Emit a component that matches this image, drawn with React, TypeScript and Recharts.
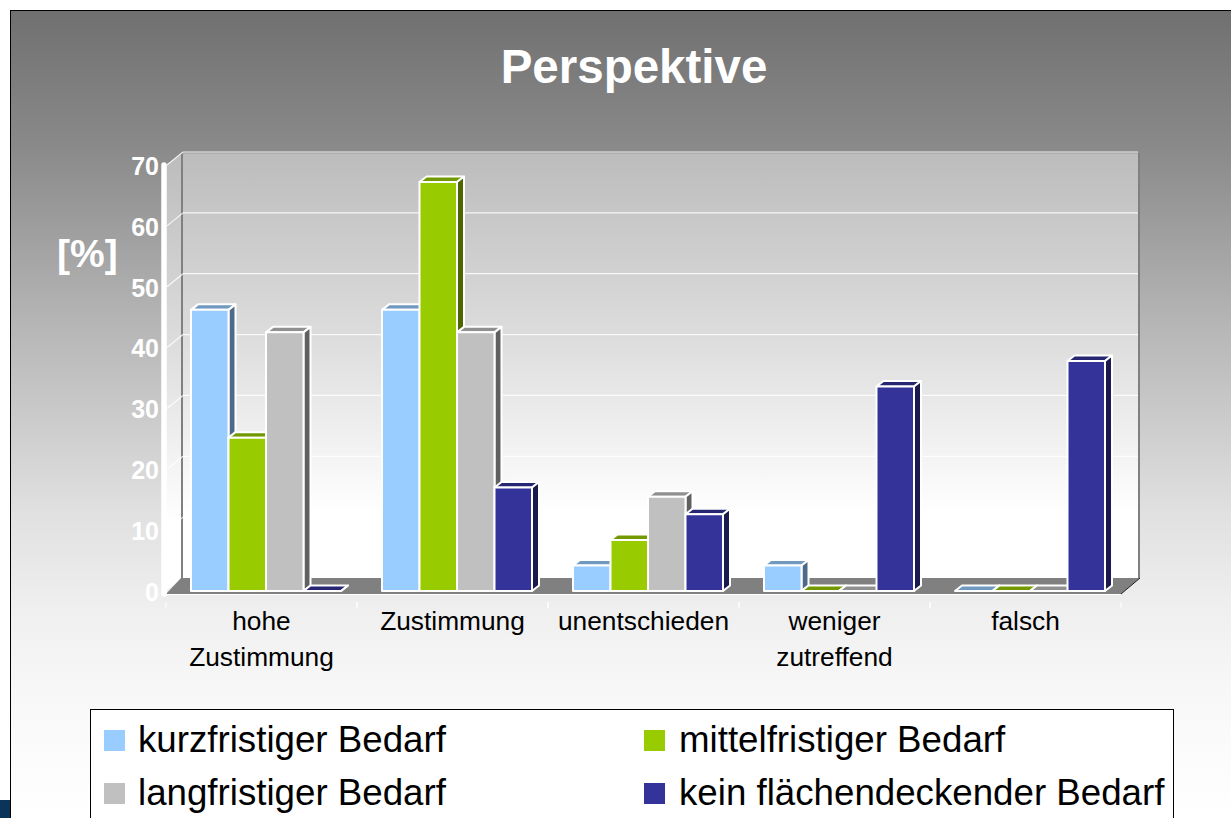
import { BarChart, Bar, XAxis, YAxis, CartesianGrid, Legend } from "recharts";

const categories = ["hohe\nZustimmung", "Zustimmung", "unentschieden", "weniger\nzutreffend", "falsch"];
const yTicks = [0, 10, 20, 30, 40, 50, 60, 70];
const kurzfristig = [46.2, 46.2, 4.2, 4.2, 0];
const mittelfristig = [25.2, 67.2, 8.4, 0, 0];
const langfristig = [42.5, 42.5, 15.5, 0, 0];
const flaechendeckend = [0, 17, 12.6, 33.6, 37.8];

const rows = categories.map((name, i) => ({
  name,
  kurz: kurzfristig[i],
  mittel: mittelfristig[i],
  lang: langfristig[i],
  kein: flaechendeckend[i],
}));

// front, top, side faces of each bar colour
const FACES: Record<string, [string, string]> = {
  "#99CCFF": ["#7099BF", "#4E6A8A"],
  "#99CC00": ["#739900", "#4D6600"],
  "#C0C0C0": ["#909090", "#606060"],
  "#333399": ["#262673", "#1A1A4D"],
};

const W = 1231;
const H = 818;
const PLOT_LEFT = 166;
const PLOT_RIGHT = 1121;
const PLOT_TOP = 165;
const PLOT_BOTTOM = 591;
const DEPTH_X = 17;
const DEPTH_Y = 13;

function Bar3D(props: any) {
  const { x, y, width, height, fill } = props;
  const [top, side] = FACES[fill];
  const x0 = x + 4;
  const dx = 7;
  const dy = 5.5;
  return (
    <g stroke="#fff" strokeWidth={2} strokeLinejoin="round">
      <polygon
        points={`${x0},${y} ${x0 + dx},${y - dy} ${x0 + width + dx},${y - dy} ${x0 + width},${y}`}
        fill={top}
      />
      <polygon
        points={`${x0 + width},${y} ${x0 + width + dx},${y - dy} ${x0 + width + dx},${y + height - dy} ${x0 + width},${y + height}`}
        fill={side}
      />
      {height > 0 && <rect x={x0} y={y} width={width} height={height} fill={fill} />}
    </g>
  );
}

function GridLine(props: any) {
  const { x1, x2, y1 } = props;
  if (y1 >= PLOT_BOTTOM - 1) return null;
  return (
    <g stroke="#fff" strokeWidth={1.2} opacity={0.85}>
      <line x1={x1 + 1} y1={y1} x2={x1 + DEPTH_X} y2={y1 - DEPTH_Y} />
      <line x1={x1 + DEPTH_X} y1={y1 - DEPTH_Y} x2={x2 + DEPTH_X} y2={y1 - DEPTH_Y} />
    </g>
  );
}

function CategoryTick(props: any) {
  const { x, y, payload } = props;
  const lines = String(payload.value).split("\n");
  return (
    <g>
      <line x1={x - 95.5} x2={x - 95.5} y1={y + 3} y2={y + 9} stroke="#fff" strokeWidth={1} />
      <line x1={x + 95.5} x2={x + 95.5} y1={y + 3} y2={y + 9} stroke="#fff" strokeWidth={1} />
      <text x={x} y={y} textAnchor="middle" fontSize={26.3} fill="#000" fontFamily="Liberation Sans">
        {lines.map((l, i) => (
          <tspan key={l} x={x} y={630 + i * 36}>
            {l}
          </tspan>
        ))}
      </text>
    </g>
  );
}

function LegendBox({ payload }: any) {
  return (
    <div
      style={{
        position: "absolute",
        left: 0,
        top: 0,
        width: 1084,
        height: 130,
        boxSizing: "border-box",
        background: "#fff",
        border: "1px solid #000",
        fontFamily: "Liberation Sans",
        fontSize: 36.7,
        color: "#000",
      }}
    >
      {(payload ?? []).map((p: any, i: number) => (
        <div
          key={p.value}
          style={{ position: "absolute", left: i % 2 ? 553 : 13, top: 8 + Math.floor(i / 2) * 53, height: 44, display: "flex", alignItems: "center", whiteSpace: "nowrap" }}
        >
          <span style={{ width: 21, height: 21, background: p.color, marginRight: i % 2 ? 14 : 13 }} />
          {p.value}
        </div>
      ))}
    </div>
  );
}

export default function App() {
  const wx0 = PLOT_LEFT + DEPTH_X;
  const wx1 = PLOT_RIGHT + DEPTH_X + 1;
  const wy0 = PLOT_TOP - DEPTH_Y + 1;
  const wy1 = PLOT_BOTTOM - DEPTH_Y;
  return (
    <div style={{ position: "relative", width: W, height: H, overflow: "hidden", background: "#fff" }}>
      <style>{"body{margin:0}"}</style>
      <div style={{ position: "absolute", left: 0, top: 800, width: 10, height: 18, background: "#0B3558" }} />
      <div
        style={{
          position: "absolute",
          left: 10,
          top: 10,
          width: W - 10,
          height: H - 10,
          boxSizing: "border-box",
          borderLeft: "1.5px solid #000",
          borderTop: "1.5px solid #000",
          background: "linear-gradient(180deg,#707070 0%,#8a8a8a 17%,#b4b4b4 38%,#e0e0e0 62%,#efefef 74%,#f8f8f8 85%,#ffffff 100%)",
        }}
      />
      <svg width={W} height={H} style={{ position: "absolute", left: 0, top: 0 }}>
        <defs>
          <linearGradient id="wall" x1="0" y1="0" x2="0" y2="1">
            <stop offset="0" stopColor="#bcbcbc" />
            <stop offset="0.45" stopColor="#dedede" />
            <stop offset="0.85" stopColor="#ffffff" />
            <stop offset="1" stopColor="#ffffff" />
          </linearGradient>
        </defs>
        <polygon points={`${PLOT_LEFT},${PLOT_TOP} ${wx0},${wy0} ${wx0},${wy1} ${PLOT_LEFT},${PLOT_BOTTOM}`} fill="url(#wall)" />
        <rect x={wx0} y={wy0} width={wx1 - wx0} height={wy1 - wy0} fill="url(#wall)" />
        <line x1={wx0} y1={wy0} x2={wx1} y2={wy0} stroke="#a0a0a0" strokeWidth={1} />
        <line x1={wx0 - 1} y1={wy0} x2={wx0 - 1} y2={wy1} stroke="#808080" strokeWidth={2} />
        <line x1={wx1} y1={wy0} x2={wx1} y2={wy1} stroke="#808080" strokeWidth={2} />
        <polygon
          points={`${PLOT_LEFT},${PLOT_BOTTOM + 3} ${wx0 - 2},${wy1} ${wx1 + 1},${wy1} ${PLOT_RIGHT},${PLOT_BOTTOM + 3}`}
          fill="#808080"
        />
        <line x1={wx1 + 1} y1={wy1} x2={PLOT_RIGHT} y2={PLOT_BOTTOM + 3} stroke="#222" strokeWidth={1} />
        <line x1={PLOT_LEFT} y1={PLOT_BOTTOM + 3.5} x2={PLOT_RIGHT} y2={PLOT_BOTTOM + 3.5} stroke="#fff" strokeWidth={1} />
        <line x1={164} y1={PLOT_TOP} x2={164} y2={PLOT_BOTTOM + 3} stroke="#fff" strokeWidth={5.5} strokeLinecap="round" />
      </svg>
      <div
        style={{
          position: "absolute",
          left: 0,
          width: W,
          top: 39,
          paddingLeft: 37,
          boxSizing: "border-box",
          textAlign: "center",
          fontFamily: "Liberation Sans",
          fontWeight: "bold",
          fontSize: 47.5,
          color: "#fff",
        }}
      >
        Perspektive
      </div>
      <div
        style={{
          position: "absolute",
          left: 57,
          top: 232,
          fontFamily: "Liberation Sans",
          fontWeight: "bold",
          fontSize: 39,
          color: "#fff",
        }}
      >
        [%]
      </div>
      <div style={{ position: "absolute", left: 0, top: 0 }}>
        <BarChart
          width={W}
          height={H}
          data={rows}
          barSize={37.5}
          barGap={0}
          margin={{ top: PLOT_TOP, right: W - PLOT_RIGHT, bottom: 0, left: 0 }}
        >
          <CartesianGrid vertical={false} horizontal={(p: any) => <GridLine key={p.key} {...p} />} />
          <XAxis dataKey="name" height={H - PLOT_BOTTOM} interval={0} axisLine={false} tickLine={false} tick={<CategoryTick />} />
          <YAxis
            width={PLOT_LEFT}
            domain={[0, 70]}
            ticks={yTicks}
            interval={0}
            axisLine={false}
            tickLine={false}
            tickMargin={1}
            tickSize={6}
            tick={{ fill: "#fff", fontSize: 25, fontWeight: "bold", fontFamily: "Liberation Sans", dy: 1 }}
          />
          <Legend
            content={<LegendBox />}
            itemSorter={null}
            wrapperStyle={{ position: "absolute", left: 90, top: 709, width: 1084, height: 0, bottom: "auto" }}
          />
          <Bar dataKey="kurz" name="kurzfristiger Bedarf" fill="#99CCFF" shape={<Bar3D />} isAnimationActive={false} />
          <Bar dataKey="mittel" name="mittelfristiger Bedarf" fill="#99CC00" shape={<Bar3D />} isAnimationActive={false} />
          <Bar dataKey="lang" name="langfristiger Bedarf" fill="#C0C0C0" shape={<Bar3D />} isAnimationActive={false} />
          <Bar dataKey="kein" name="kein flächendeckender Bedarf" fill="#333399" shape={<Bar3D />} isAnimationActive={false} />
        </BarChart>
      </div>
    </div>
  );
}
